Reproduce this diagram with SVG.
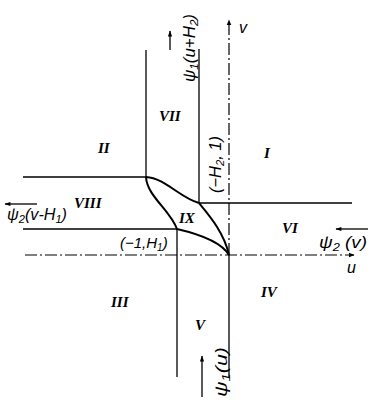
<svg xmlns="http://www.w3.org/2000/svg" width="368" height="403" viewBox="0 0 368 403">
<defs>
<marker id="ah" viewBox="0 0 10 10" refX="9" refY="5" markerWidth="6" markerHeight="7" orient="auto" markerUnits="userSpaceOnUse">
<path d="M0,1 L10,5 L0,9 Z" fill="#000"/>
</marker>
<marker id="ah2" viewBox="0 0 10 10" refX="9" refY="5" markerWidth="8" markerHeight="6" orient="auto" markerUnits="userSpaceOnUse">
<path d="M0,1.5 L10,5 L0,8.5 Z" fill="#000"/>
</marker>
</defs>
<style>
.ln{stroke:#000;stroke-width:1.3;fill:none}
.ax{stroke:#000;stroke-width:1.2;fill:none;stroke-dasharray:12 3 2 3}
.cv{stroke:#000;stroke-width:2;fill:none}
.ar{stroke:#000;stroke-width:1.3;fill:none}
.rn{font-family:"Liberation Serif",serif;font-style:italic;font-weight:bold;font-size:15px;fill:#000}
.lb{font-family:"Liberation Sans",sans-serif;font-style:italic;font-size:16px;fill:#000}
.sb{font-size:11px}
</style>
<rect width="368" height="403" fill="#fff"/>
<g id="connectors">
<line class="ax" x1="229" y1="255" x2="229" y2="20" marker-end="url(#ah)"/>
<line class="ax" x1="25" y1="255" x2="354" y2="255" marker-end="url(#ah)"/>
<line class="ln" x1="229" y1="255" x2="229" y2="378"/>
<line class="ln" x1="177" y1="229" x2="177" y2="377"/>
<line class="ln" x1="23" y1="229" x2="177" y2="229"/>
<line class="ln" x1="23" y1="177" x2="146" y2="177"/>
<line class="ln" x1="199" y1="203" x2="352" y2="203"/>
<line class="ln" x1="146" y1="50" x2="146" y2="177"/>
<line class="ln" x1="199" y1="49" x2="199" y2="203"/>
<path class="cv" d="M146,177 C165,178 180,198 199,203 C208,214 224,232 229,255"/>
<path class="cv" d="M146,177 C147,196 170,210 177,229 C190,232 220,240 229,255"/>
<line class="ar" x1="170" y1="50" x2="170" y2="31" marker-end="url(#ah2)"/>
<line class="ar" x1="37" y1="204" x2="5" y2="204" marker-end="url(#ah2)"/>
<line class="ar" x1="368" y1="229" x2="336" y2="229" marker-end="url(#ah2)"/>
<line class="ar" x1="202" y1="397" x2="202" y2="356" marker-end="url(#ah2)"/>
</g>
<g id="region-I"><text class="rn" x="264" y="158">I</text></g>
<g id="region-II"><text class="rn" x="98" y="153">II</text></g>
<g id="region-III"><text class="rn" x="111" y="307">III</text></g>
<g id="region-IV"><text class="rn" x="261" y="297">IV</text></g>
<g id="region-V"><text class="rn" x="195" y="330">V</text></g>
<g id="region-VI"><text class="rn" x="282" y="233">VI</text></g>
<g id="region-VII"><text class="rn" x="159" y="121">VII</text></g>
<g id="region-VIII"><text class="rn" x="74" y="208">VIII</text></g>
<g id="region-IX"><text class="rn" x="179" y="223">IX</text></g>
<g id="axis-labels">
<text class="lb" x="239" y="33">v</text>
<text class="lb" x="347" y="273">u</text>
</g>
<g id="label-psi1-uH2"><text class="lb" transform="translate(195,82) rotate(-90)" textLength="68" lengthAdjust="spacingAndGlyphs">ψ<tspan class="sb" dy="3">1</tspan><tspan dy="-3">(u+H</tspan><tspan class="sb" dy="3">2</tspan><tspan dy="-3">)</tspan></text></g>
<g id="label-H2-1"><text class="lb" transform="translate(221,193) rotate(-90)" textLength="57" lengthAdjust="spacingAndGlyphs">(−H<tspan class="sb" dy="3">2</tspan><tspan dy="-3">, 1)</tspan></text></g>
<g id="label-psi2-vH1"><text class="lb" x="7" y="220" textLength="60" lengthAdjust="spacingAndGlyphs">ψ<tspan class="sb" dy="3">2</tspan><tspan dy="-3">(v-H</tspan><tspan class="sb" dy="3">1</tspan><tspan dy="-3">)</tspan></text></g>
<g id="label-1-H1"><text class="lb" x="120" y="248" style="font-size:15px">(−1,H<tspan style="font-size:10px" dy="3">1</tspan><tspan dy="-3">)</tspan></text></g>
<g id="label-psi2-v"><text class="lb" x="319" y="248" textLength="48" lengthAdjust="spacingAndGlyphs">ψ<tspan class="sb" dy="3">2</tspan><tspan dy="-3"> (v)</tspan></text></g>
<g id="label-psi1-u"><text class="lb" transform="translate(227,397) rotate(-90)" textLength="50" lengthAdjust="spacingAndGlyphs">ψ<tspan class="sb" dy="3">1</tspan><tspan dy="-3">(u)</tspan></text></g>
</svg>
